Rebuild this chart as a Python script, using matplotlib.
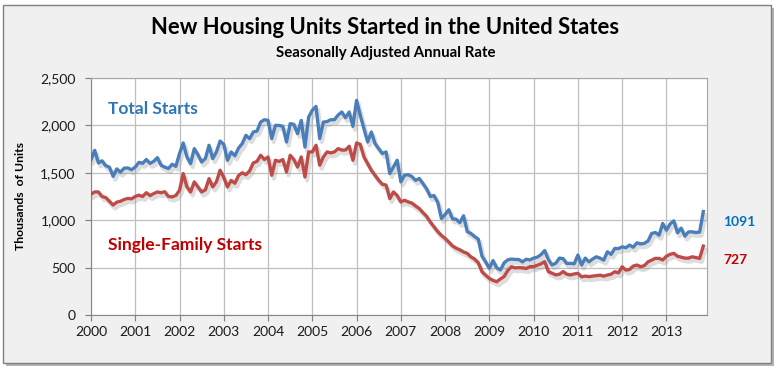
"""
    New housing units started in the United States, 2000-2013
"""
import numpy as np
import matplotlib.pyplot as plt
import matplotlib.patheffects as pe
from matplotlib.patches import Rectangle

plt.rcParams['font.family'] = ['Lato', 'DejaVu Sans']

# monthly starts, thousands of units (SAAR), Jan 2000 - Nov 2013
total_starts = [
    1636, 1737, 1604, 1626, 1575, 1559, 1463, 1541, 1507, 1549, 1551, 1532,  # 2000
    1560, 1610, 1600, 1640, 1600, 1620, 1660, 1580, 1560, 1545, 1590, 1568,  # 2001
    1703, 1815, 1667, 1597, 1755, 1690, 1614, 1650, 1790, 1650, 1720, 1835,  # 2002
    1800, 1632, 1720, 1680, 1760, 1808, 1895, 1860, 1930, 1940, 2035, 2060,  # 2003
    2053, 1861, 2000, 2000, 1990, 1825, 2018, 2010, 1913, 2053, 1772, 2088,  # 2004
    2160, 2200, 1861, 2035, 2040, 2060, 2060, 2110, 2141, 2081, 2141, 1990,  # 2005
    2264, 2106, 1966, 1825, 1930, 1808, 1755, 1703, 1720, 1492, 1561, 1632,  # 2006
    1404, 1474, 1480, 1460, 1420, 1440, 1387, 1330, 1250, 1260, 1190, 1018,  # 2007
    1060, 1110, 1015, 1010, 975, 1046, 880, 860, 828, 800, 620, 560,        # 2008
    493, 574, 497, 475, 550, 581, 590, 586, 585, 560, 588, 581,              # 2009
    600, 610, 636, 680, 583, 528, 546, 600, 594, 543, 545, 540,              # 2010
    632, 527, 600, 561, 590, 614, 600, 579, 667, 640, 702, 700,              # 2011
    719, 710, 737, 715, 761, 750, 755, 780, 860, 870, 842, 965,              # 2012
    895, 960, 993, 867, 916, 832, 877, 877, 870, 875, 1091,                  # 2013
]
single_family = [
    1274, 1298, 1298, 1250, 1239, 1200, 1160, 1190, 1200, 1218, 1230, 1225,  # 2000
    1250, 1264, 1250, 1290, 1260, 1280, 1298, 1290, 1300, 1250, 1246, 1260,  # 2001
    1316, 1492, 1351, 1298, 1404, 1351, 1298, 1320, 1439, 1351, 1404, 1527,  # 2002
    1450, 1351, 1420, 1390, 1470, 1500, 1480, 1520, 1604, 1620, 1685, 1640,  # 2003
    1667, 1474, 1632, 1620, 1640, 1509, 1685, 1640, 1561, 1667, 1456, 1720,  # 2004
    1720, 1790, 1580, 1667, 1720, 1710, 1720, 1755, 1740, 1740, 1780, 1632,  # 2005
    1815, 1800, 1667, 1597, 1527, 1474, 1421, 1379, 1370, 1228, 1298, 1260,  # 2006
    1193, 1210, 1193, 1180, 1150, 1123, 1080, 1040, 980, 930, 880, 840,      # 2007
    808, 770, 729, 705, 687, 665, 650, 613, 590, 551, 456, 420,              # 2008
    386, 365, 351, 380, 405, 470, 509, 497, 500, 497, 490, 510,              # 2009
    510, 525, 539, 563, 458, 440, 423, 430, 458, 430, 423, 433,              # 2010
    439, 403, 410, 405, 410, 415, 420, 410, 421, 430, 456, 445,              # 2011
    509, 474, 480, 516, 527, 510, 520, 560, 579, 597, 597, 580,              # 2012
    620, 640, 650, 620, 610, 600, 600, 614, 605, 597, 727,                   # 2013
]
years = list(range(2000, 2014))
y_ticks = [0, 500, 1000, 1500, 2000, 2500]

months = 2000 + np.arange(len(total_starts)) / 12.0

BLUE = '#4A7EBB'
RED = '#BE4B48'

fig = plt.figure(figsize=(7.8, 3.72), dpi=100, facecolor='white')

# chart area frame with a drop shadow
fig.patches.append(Rectangle((6 / 780, 6 / 372), 768 / 780, 358 / 372, transform=fig.transFigure,
                             facecolor='#B4B4B4', edgecolor='none', zorder=-2))
fig.patches.append(Rectangle((3 / 780, 9 / 372), 768 / 780, 358 / 372, transform=fig.transFigure,
                             facecolor='#F0F0F0', edgecolor='#7F7F7F', linewidth=1, zorder=-1))

ax = fig.add_axes([91 / 780, 57 / 372, 616 / 780, 237 / 372])
ax.set_facecolor('white')

shadow = [pe.SimpleLineShadow(offset=(1.5, -2.5), shadow_color='#909090', alpha=0.3, linewidth=3),
          pe.Normal()]
ax.plot(months, total_starts, color=BLUE, lw=2.4, solid_joinstyle='round', path_effects=shadow, zorder=3)
ax.plot(months, single_family, color=RED, lw=2.4, solid_joinstyle='round', path_effects=shadow, zorder=3)

ax.set_xlim(2000, 2013 + 11 / 12)
ax.set_ylim(0, 2500)
ax.set_xticks(years)
ax.set_xticklabels([str(y) for y in years])
ax.set_yticks(y_ticks)
ax.set_yticklabels(['{:,}'.format(v) for v in y_ticks])
ax.tick_params(axis='both', labelsize=10, colors='#7F7F7F', labelcolor='#1A1A1A', length=4, width=0.8)
ax.tick_params(axis='y', pad=7)
ax.tick_params(axis='x', pad=4)
ax.grid(True, color='#BFBFBF', linewidth=0.9)
ax.set_axisbelow(True)
for side in ax.spines:
    ax.spines[side].set_color('#A6A6A6')
ax.spines['left'].set_color('#868686')
ax.spines['bottom'].set_color('#868686')

ax.set_ylabel('Thousands  of Units', fontsize=8.8, fontweight='bold', labelpad=10)

# series labels
ax.text(2000.38, 2169, 'Total Starts', color='#2E75B6', fontsize=12.5, fontweight='bold', va='center')
ax.text(2000.38, 737, 'Single-Family Starts', color='#C00000', fontsize=12.5, fontweight='bold', va='center')
ax.text(2014.28, 979, str(total_starts[-1]), color='#0070C0', fontsize=10, fontweight='bold',
        va='center', clip_on=False)
ax.text(2014.28, 579, str(single_family[-1]), color='#C00000', fontsize=10, fontweight='bold',
        va='center', clip_on=False)

fig.text(0.494, 1 - 28 / 372, 'New Housing Units Started in the United States', ha='center', va='center',
         fontsize=15.8, fontweight='bold', color='black')
fig.text(0.494, 1 - 53 / 372, 'Seasonally Adjusted Annual Rate', ha='center', va='center',
         fontsize=10.8, fontweight='bold', color='black')

fig.savefig('out.png', dpi=100, facecolor=fig.get_facecolor())
